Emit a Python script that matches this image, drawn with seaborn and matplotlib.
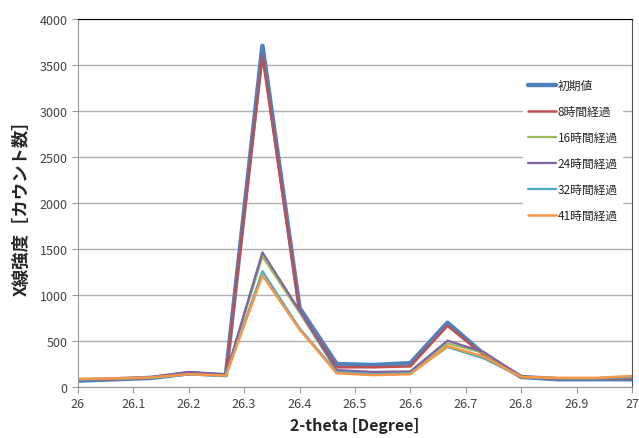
import numpy as np
import pandas as pd
import matplotlib
matplotlib.use("Agg")
import matplotlib.pyplot as plt
import seaborn as sns

# 2-theta の測定点
two_theta = [26.0, 26.067, 26.133, 26.2, 26.267, 26.333, 26.4, 26.467,
             26.533, 26.6, 26.667, 26.733, 26.8, 26.867, 26.933, 27.0]

# 各経過時間のカウント数
init_val = [70, 85, 100, 150, 130, 3710, 860, 250, 240, 260, 700, 355, 110, 85, 85, 85]
h8 = [75, 85, 100, 155, 130, 3600, 830, 215, 215, 225, 665, 345, 110, 90, 90, 95]
h16 = [80, 90, 105, 150, 125, 1420, 810, 175, 160, 160, 475, 370, 110, 95, 95, 105]
h24 = [75, 90, 110, 165, 135, 1465, 830, 185, 165, 170, 505, 380, 115, 95, 95, 105]
h32 = [80, 90, 100, 135, 125, 1260, 640, 165, 140, 150, 435, 310, 110, 95, 95, 110]
h41 = [90, 95, 105, 140, 125, 1215, 625, 150, 130, 140, 445, 330, 110, 100, 100, 120]

labels = ["初期値", "8時間経過", "16時間経過", "24時間経過", "32時間経過", "41時間経過"]
colors = ["#4F81BD", "#C0504D", "#9BBB59", "#8064A2", "#4BACC6", "#F79646"]
widths = [3.2, 1.8, 1.6, 1.6, 1.6, 1.8]

sns.set_style("white")
plt.rcParams['font.family'] = ['Noto Sans CJK JP', 'DejaVu Sans']

fig = plt.figure(figsize=(6.39, 4.39), dpi=100)
ax = fig.add_axes([0.122, 0.116, 0.867, 0.838])

series = [init_val, h8, h16, h24, h32, h41]
for vals, lab, col, lw in zip(series, labels, colors, widths):
    df = pd.DataFrame({"x": two_theta, "y": vals})
    sns.lineplot(data=df, x="x", y="y", color=col, linewidth=lw, label=lab, ax=ax)

ax.set_xlim(26, 27)
ax.set_ylim(0, 4000)
ax.set_xticks(np.arange(26, 27.01, 0.1))
ax.set_xticklabels(["26", "26.1", "26.2", "26.3", "26.4", "26.5", "26.6", "26.7", "26.8", "26.9", "27"])
ax.set_yticks(np.arange(0, 4001, 500))
ax.yaxis.grid(True, color="#b0b0b0", linewidth=1)
ax.set_axisbelow(True)

ax.tick_params(axis="both", labelsize=9, colors="#444444", length=4, direction="out",
               left=True, bottom=True)
ax.tick_params(axis="both", color="#999999")

for side in ["left", "bottom"]:
    ax.spines[side].set_color("#999999")
ax.spines["top"].set_color("black")
ax.spines["right"].set_color("#555555")

ax.set_xlabel("2-theta [Degree]", fontsize=11.5, fontweight="bold", labelpad=5)
ax.set_ylabel("X線強度［カウント数］", fontsize=12.5, fontweight="bold")
ax.yaxis.set_label_coords(-0.085, 0.5)

leg = ax.legend(loc="upper left", bbox_to_anchor=(0.804, 0.85), frameon=True,
                fontsize=8.5, handlelength=2.4, labelspacing=1.1, handletextpad=0.1,
                borderaxespad=0)
leg.get_frame().set_edgecolor("white")
leg.get_frame().set_facecolor("white")
leg.get_frame().set_alpha(1)

fig.savefig("out.png", dpi=100)
